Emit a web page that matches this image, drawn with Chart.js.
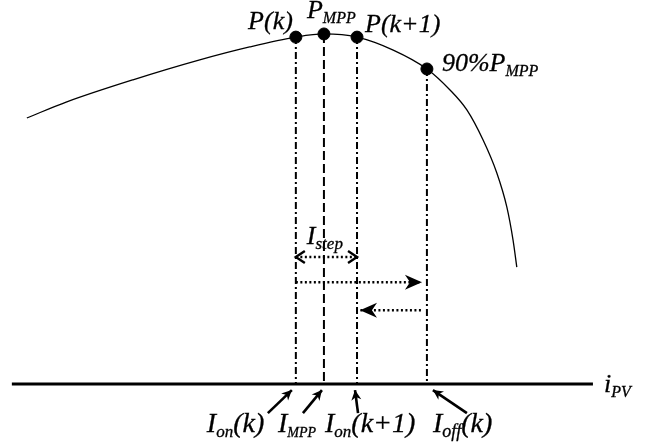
<!DOCTYPE html>
<html>
<head>
<meta charset="utf-8">
<script src="https://cdn.jsdelivr.net/npm/chart.js@4.4.1/dist/chart.umd.min.js"></script>
<style>
  html, body { margin: 0; padding: 0; background: #fff; }
  #wrap { width: 646px; height: 445px; }
</style>
</head>
<body>
<div id="wrap"><canvas id="myChart" width="646" height="445"></canvas></div>
<script>
// P-I curve of the PV source (current in A, power in % of P_MPP)
var curveI = [0.24, 0.88, 1.94, 3.01, 3.81, 4.55, 5.0, 5.53, 6.11, 6.65, 7.02, 7.29, 7.55, 7.77, 7.93, 8.03, 8.09];
var curveP = [76.0, 80.6, 86.9, 92.6, 96.3, 99.1, 100, 99.1, 95.4, 90, 84.0, 78.3, 69.7, 60.3, 50.6, 41.1, 33.4];

// operating points: P(k), P_MPP, P(k+1), 90% P_MPP
var markI = [4.55, 5.0, 5.53, 6.65];
var markP = [99.1, 100, 99.1, 90];

// i_PV axis extent
var axisI = [0, 9.31];

// heights of the step arrows (same units as power)
var stepLevel = 36.3;
var fwdLevel = 29.1;
var backLevel = 21.1;

var serif = '"Liberation Serif", "Times New Roman", serif';

var dashDot = [7, 3, 2, 3];
var dashed = [9, 4];

function pts(xs, ys) {
  return xs.map(function(x, i) { return { x: x, y: ys[i] }; });
}

function vline(i, dash) {
  return {
    type: 'line',
    data: [{ x: markI[i], y: markP[i] }, { x: markI[i], y: 0 }],
    borderColor: '#000',
    borderWidth: 2,
    borderDash: dash,
    pointRadius: 0
  };
}

// text with subscripts: parts like ['I', '_on', '(k)'], sizes [main, sub]
function richText(ctx, parts, x, y, size, align) {
  var fonts = ['italic ' + size[0] + 'px ' + serif, 'italic ' + size[1] + 'px ' + serif];
  var w = 0;
  parts.forEach(function(p) {
    ctx.font = fonts[p[0] === '_' ? 1 : 0];
    w += ctx.measureText(p[0] === '_' ? p.slice(1) : p).width;
  });
  var cx = align === 'right' ? x - w : x;
  ctx.lineWidth = 0.3;
  ctx.setLineDash([]);
  parts.forEach(function(p) {
    var sub = p[0] === '_';
    var t = sub ? p.slice(1) : p;
    ctx.font = fonts[sub ? 1 : 0];
    ctx.fillText(t, cx, sub ? y + 5 : y);
    ctx.strokeText(t, cx, sub ? y + 5 : y);
    cx += ctx.measureText(t).width;
  });
}

function arrowHead(ctx, x1, y1, x2, y2, len, half, filled) {
  var a = Math.atan2(y2 - y1, x2 - x1);
  var bx = x2 - len * Math.cos(a), by = y2 - len * Math.sin(a);
  var nx = -Math.sin(a) * half, ny = Math.cos(a) * half;
  ctx.setLineDash([]);
  ctx.beginPath();
  ctx.moveTo(bx + nx, by + ny);
  ctx.lineTo(x2, y2);
  ctx.lineTo(bx - nx, by - ny);
  if (filled) {
    ctx.lineTo(x2 - len * 0.7 * Math.cos(a), y2 - len * 0.7 * Math.sin(a));
    ctx.closePath();
    ctx.fill();
  } else {
    ctx.stroke();
  }
}

function dottedArrow(ctx, x1, x2, y, heads) {
  ctx.save();
  ctx.lineWidth = 2.4;
  ctx.setLineDash([2, 2.5]);
  ctx.beginPath();
  ctx.moveTo(x1, y);
  ctx.lineTo(x2, y);
  ctx.stroke();
  ctx.lineWidth = 2.4;
  if (heads === 'both') {
    arrowHead(ctx, x2, y, x1, y, 9, 6, false);
    arrowHead(ctx, x1, y, x2, y, 9, 6, false);
  } else {
    arrowHead(ctx, x1, y, x2, y, 17, 7.5, true);
  }
  ctx.restore();
}

var annotate = {
  id: 'annotate',
  afterDatasetsDraw: function(chart) {
    var ctx = chart.ctx;
    var xs = chart.scales.x, ys = chart.scales.y;
    var px = markI.map(function(v) { return xs.getPixelForValue(v); });
    var py = markP.map(function(v) { return ys.getPixelForValue(v); });
    var axisY = ys.getPixelForValue(0);
    var top = [26, 16];

    ctx.save();
    ctx.fillStyle = '#000';
    ctx.strokeStyle = '#000';
    ctx.textBaseline = 'alphabetic';

    // point labels
    richText(ctx, ['P(k)'], px[0] - 3, py[0] - 8, top, 'right');
    richText(ctx, ['P', '_MPP'], px[1] - 17, py[1] - 16, top);
    richText(ctx, ['P(k+1)'], px[2] + 8, py[2] - 5, top);
    richText(ctx, ['90%P', '_MPP'], px[3] + 15, py[3] + 2, top);

    // step arrows
    var yStep = ys.getPixelForValue(stepLevel);
    dottedArrow(ctx, px[0], px[2], yStep, 'both');
    richText(ctx, ['I', '_step'], px[0] + 11, yStep - 13, [26, 17]);
    dottedArrow(ctx, px[0], px[3] - 5, ys.getPixelForValue(fwdLevel), 'one');
    dottedArrow(ctx, px[3] - 6, px[2] + 3, ys.getPixelForValue(backLevel), 'one');

    // current labels under the axis
    var base = axisY + 48;
    richText(ctx, ['I', '_on', '(k)'], px[0] - 89, base, [28, 17]);
    richText(ctx, ['I', '_MPP'], px[1] - 46, base, [28, 14]);
    richText(ctx, ['I', '_on', '(k+1)'], px[2] - 32, base, [28, 17]);
    richText(ctx, ['I', '_off', '(k)'], px[3] + 6, base, [28, 18]);
    richText(ctx, ['i', '_PV'], xs.getPixelForValue(axisI[1]) + 11, axisY + 8, [26, 16]);

    // pointers from labels to the axis
    var ptr = [[-28, -4], [-21, -2], [1, -2], [40, 6]];
    ctx.lineWidth = 2.6;
    ptr.forEach(function(p, i) {
      var x1 = px[i] + p[0], y1 = axisY + 29;
      var x2 = px[i] + p[1], y2 = axisY + 6;
      ctx.setLineDash([]);
      ctx.beginPath();
      ctx.moveTo(x1, y1);
      ctx.lineTo(x2, y2);
      ctx.stroke();
      arrowHead(ctx, x1, y1, x2, y2, 10, 5, true);
    });
    ctx.restore();
  }
};

var ctx = document.getElementById('myChart').getContext('2d');
var myChart = new Chart(ctx, {
  type: 'scatter',
  data: {
    datasets: [
      {
        type: 'line',
        data: pts(curveI, curveP),
        borderColor: '#000',
        borderWidth: 1.3,
        pointRadius: 0,
        cubicInterpolationMode: 'monotone'
      },
      {
        type: 'line',
        data: [{ x: axisI[0], y: 0 }, { x: axisI[1], y: 0 }],
        borderColor: '#000',
        borderWidth: 3,
        pointRadius: 0
      },
      vline(0, dashDot),
      vline(1, dashed),
      vline(2, dashDot),
      vline(3, dashDot),
      {
        data: pts(markI, markP),
        backgroundColor: '#000',
        borderColor: '#000',
        pointRadius: 6
      }
    ]
  },
  options: {
    responsive: false,
    animation: false,
    devicePixelRatio: 1,
    layout: { padding: 0, autoPadding: false },
    plugins: { legend: { display: false }, tooltip: { enabled: false } },
    scales: {
      x: { type: 'linear', display: false, min: -0.19, max: 10.16 },
      y: { type: 'linear', display: false, min: -17.4, max: 109.7 }
    }
  },
  plugins: [annotate]
});
</script>
</body>
</html>
